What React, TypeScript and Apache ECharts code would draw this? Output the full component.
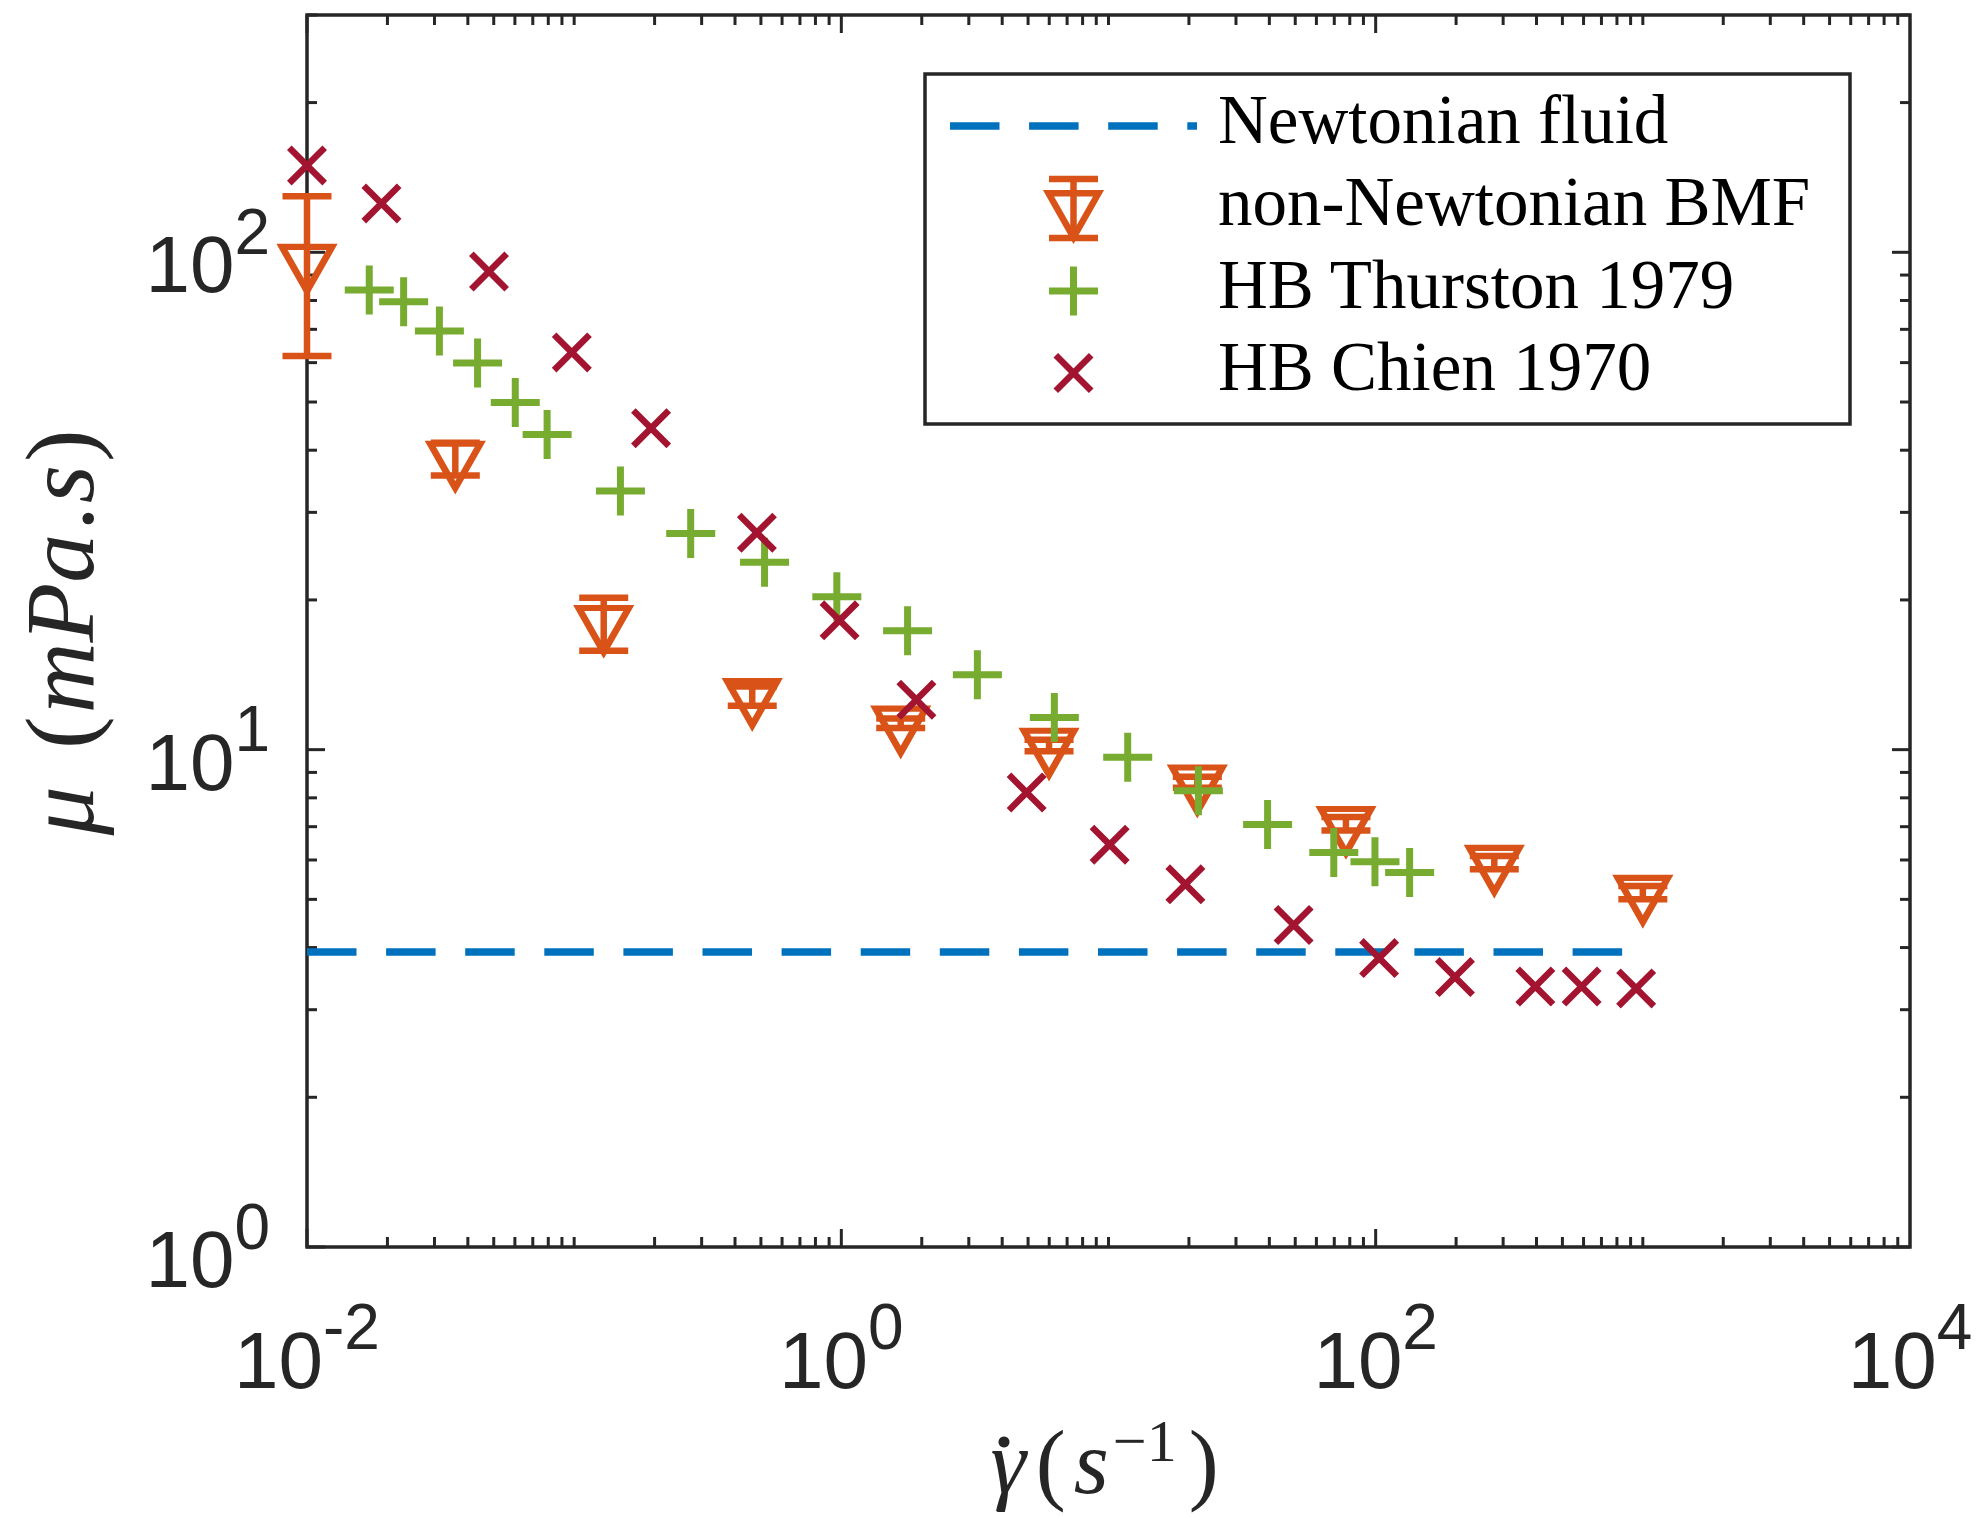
import React, { useEffect, useRef } from 'react';
import * as echarts from 'echarts';

// ---------------- data ----------------
const newtonianX = [0.01, 1000];
const newtonianY = [3.92, 3.92];

const bmfX = [0.01, 0.0359, 0.129, 0.464, 1.668, 5.99, 21.5, 77.4, 278, 1000];
const bmfY = [95.8, 38.5, 18.0, 12.83, 11.3, 10.2, 8.6, 7.1, 5.93, 5.16];
const bmfErr = [33.9, 2.9, 2.2, 0.57, 0.25, 0.27, 0.22, 0.22, 0.18, 0.16];

const thurstonX = [0.0171, 0.023, 0.0313, 0.0435, 0.0602, 0.0792, 0.149, 0.273, 0.516, 0.962, 1.77, 3.23, 6.27, 11.8, 21.7, 39.4, 69.7, 99.4, 134];
const thurstonY = [84.0, 79.5, 69.5, 59.9, 49.9, 43.0, 33.1, 27.2, 23.8, 20.3, 17.35, 14.15, 11.6, 9.65, 8.27, 7.07, 6.21, 5.95, 5.66];

const chienX = [0.01, 0.019, 0.048, 0.098, 0.194, 0.483, 0.985, 1.91, 4.94, 10.1, 19.4, 49.3, 103, 198, 396, 590, 944];
const chienY = [149.5, 125.4, 91.5, 62.9, 44.3, 27.3, 18.2, 12.6, 8.2, 6.44, 5.36, 4.44, 3.81, 3.49, 3.34, 3.34, 3.31];

const legendNames = ['Newtonian fluid', 'non-Newtonian BMF', 'HB Thurston 1979', 'HB Chien 1970'];

const xMin = 0.01;
const xMax = 10000;
const yMin = 1;
const yMax = 300;
const xTickDecades = [-2, -1, 0, 1, 2, 3];
const xLabelExponents = [-2, 0, 2, 4];
const yTickDecades = [0, 1, 2];
const yLabelExponents = [0, 1, 2];
const minorMultipliers = [1, 2, 3, 4, 5, 6, 7, 8, 9];

// ---------------- styles ----------------
const BLUE = '#0072BD';
const ORANGE = '#D95319';
const GREEN = '#77AC30';
const RED = '#A2142F';
const AXIS = '#262626';

const PLUS_PATH = 'path://M21,0 H28 V21 H49 V28 H28 V49 H21 V28 H0 V21 H21 Z';
const CROSS_PATH = 'path://M0,4.6 L4.6,0 L40,35.4 L35.4,40 Z M35.4,0 L40,4.6 L4.6,40 L0,35.4 Z';

const TRI_W = 50;
const TRI_H = 44;

// tick lists (axis decoration)
const xTickData: number[][] = [];
xTickDecades.forEach((d) => {
  minorMultipliers.forEach((m) => {
    const v = m * Math.pow(10, d);
    const major = m === 1 && xLabelExponents.indexOf(d) >= 0 ? 1 : 0;
    xTickData.push([v, 1, major]);
  });
});
const yTickData: number[][] = [];
yTickDecades.forEach((d) => {
  minorMultipliers.forEach((m) => {
    const v = m * Math.pow(10, d);
    if (v <= yMax) {
      const major = m === 1 && yLabelExponents.indexOf(d) >= 0 ? 1 : 0;
      yTickData.push([1, v, major]);
    }
  });
});

const supLabel = (value: number, allowed: number[]) => {
  const e = Math.log10(value);
  const r = Math.round(e);
  if (Math.abs(e - r) > 1e-6 || allowed.indexOf(r) < 0) return '';
  return '{b|10}{s|' + r + '}';
};

const tickRich = {
  b: { fontFamily: 'Liberation Sans', fontSize: 80, color: AXIS, lineHeight: 105, verticalAlign: 'bottom' },
  s: { fontFamily: 'Liberation Sans', fontSize: 64, color: AXIS, verticalAlign: 'top' },
};

const renderXTicks = (params: any, api: any) => {
  const cs = params.coordSys;
  const p = api.coord([api.value(0), yMin]);
  const len = api.value(2) ? 18 : 10;
  const st = { stroke: AXIS, lineWidth: 3 };
  return {
    type: 'group',
    children: [
      { type: 'line', shape: { x1: p[0], y1: cs.y + cs.height, x2: p[0], y2: cs.y + cs.height - len }, style: st },
      { type: 'line', shape: { x1: p[0], y1: cs.y, x2: p[0], y2: cs.y + len }, style: st },
    ],
  };
};

const renderYTicks = (params: any, api: any) => {
  const cs = params.coordSys;
  const p = api.coord([xMin, api.value(1)]);
  const len = api.value(2) ? 18 : 10;
  const st = { stroke: AXIS, lineWidth: 3 };
  return {
    type: 'group',
    children: [
      { type: 'line', shape: { x1: cs.x, y1: p[1], x2: cs.x + len, y2: p[1] }, style: st },
      { type: 'line', shape: { x1: cs.x + cs.width, y1: p[1], x2: cs.x + cs.width - len, y2: p[1] }, style: st },
    ],
  };
};

const renderErrorBars = (params: any, api: any) => {
  const x = api.value(0);
  const y = api.value(1);
  const e = api.value(2);
  const top = api.coord([x, y + e]);
  const bot = api.coord([x, y - e]);
  const hw = 24.5;
  const st = { stroke: ORANGE, lineWidth: 6.5 };
  return {
    type: 'group',
    children: [
      { type: 'line', shape: { x1: top[0], y1: top[1], x2: bot[0], y2: bot[1] }, style: st },
      { type: 'line', shape: { x1: top[0] - hw, y1: top[1], x2: top[0] + hw, y2: top[1] }, style: st },
      { type: 'line', shape: { x1: bot[0] - hw, y1: bot[1], x2: bot[0] + hw, y2: bot[1] }, style: st },
    ],
  };
};

// ---------------- legend (graphic) ----------------
const LX = 925;
const LY = 74;
const LW = 925;
const LH = 350;
const rowY = [126, 208, 291, 373];
const iconX = 1073.5;
const textX = 1218;
const legendFont = { fontFamily: 'Liberation Serif', fontSize: 69, fill: '#000' };

const legendGraphic: any[] = [
  { type: 'rect', z: 100, shape: { x: LX, y: LY, width: LW, height: LH }, style: { fill: '#fff', stroke: AXIS, lineWidth: 3.5 } },
  { type: 'line', z: 101, shape: { x1: 950, y1: rowY[0], x2: 1197, y2: rowY[0] }, style: { stroke: BLUE, lineWidth: 7.5, lineDash: [49.5, 29.6] } },
  { type: 'line', z: 101, shape: { x1: iconX, y1: 179, x2: iconX, y2: 238 }, style: { stroke: ORANGE, lineWidth: 6.5 } },
  { type: 'line', z: 101, shape: { x1: iconX - 24.5, y1: 179, x2: iconX + 24.5, y2: 179 }, style: { stroke: ORANGE, lineWidth: 6.5 } },
  { type: 'line', z: 101, shape: { x1: iconX - 24.5, y1: 238, x2: iconX + 24.5, y2: 238 }, style: { stroke: ORANGE, lineWidth: 6.5 } },
  {
    type: 'polygon', z: 101,
    shape: { points: [[iconX - TRI_W / 2, rowY[1] - TRI_H / 3], [iconX + TRI_W / 2, rowY[1] - TRI_H / 3], [iconX, rowY[1] + (2 * TRI_H) / 3]] },
    style: { fill: 'none', stroke: ORANGE, lineWidth: 6.5, lineJoin: 'miter', miterLimit: 10 },
  },
  { type: 'line', z: 101, shape: { x1: iconX - 24.5, y1: rowY[2], x2: iconX + 24.5, y2: rowY[2] }, style: { stroke: GREEN, lineWidth: 7 } },
  { type: 'line', z: 101, shape: { x1: iconX, y1: rowY[2] - 24.5, x2: iconX, y2: rowY[2] + 24.5 }, style: { stroke: GREEN, lineWidth: 7 } },
  { type: 'line', z: 101, shape: { x1: iconX - 17.7, y1: rowY[3] - 17.7, x2: iconX + 17.7, y2: rowY[3] + 17.7 }, style: { stroke: RED, lineWidth: 6.5 } },
  { type: 'line', z: 101, shape: { x1: iconX - 17.7, y1: rowY[3] + 17.7, x2: iconX + 17.7, y2: rowY[3] - 17.7 }, style: { stroke: RED, lineWidth: 6.5 } },
  ...legendNames.map((name, i) => ({
    type: 'text', z: 101, x: textX, y: rowY[i] - 6,
    style: { ...legendFont, text: name, textAlign: 'left', textVerticalAlign: 'middle', verticalAlign: 'middle' },
  })),
  // dot accent of the gamma in the x-axis title
  { type: 'circle', z: 101, shape: { cx: 1004, cy: 1442, r: 5.5 }, style: { fill: AXIS } },
];

const option: any = {
  animation: false,
  backgroundColor: '#fff',
  grid: {
    left: 307, top: 15, width: 1603, height: 1232,
    show: true, borderColor: AXIS, borderWidth: 3.5, backgroundColor: '#fff',
    containLabel: false, outerBoundsMode: 'none',
  },
  xAxis: {
    type: 'log', logBase: 10, min: xMin, max: xMax,
    axisLine: { show: false }, axisTick: { show: false }, splitLine: { show: false },
    axisLabel: { margin: 48, formatter: (v: number) => supLabel(v, xLabelExponents), rich: tickRich },
    name: '{g|γ}{p|(}{i|s}{sup|−1}{p|)}',
    nameLocation: 'middle', nameGap: 164,
    nameTextStyle: {
      rich: {
        g: { fontFamily: 'Liberation Serif', fontStyle: 'italic', fontSize: 90, color: AXIS, lineHeight: 96, verticalAlign: 'bottom', padding: [0, 4, 0, 0] },
        i: { fontFamily: 'Liberation Serif', fontStyle: 'italic', fontSize: 90, color: AXIS, lineHeight: 96, verticalAlign: 'bottom' },
        p: { fontFamily: 'Liberation Serif', fontSize: 90, color: AXIS, lineHeight: 96, verticalAlign: 'bottom', padding: [0, 8, 0, 6] },
        sup: { fontFamily: 'Liberation Serif', fontSize: 60, color: AXIS, verticalAlign: 'top', padding: [0, 6, 0, 4] },
      },
    },
  },
  yAxis: {
    type: 'log', logBase: 10, min: yMin, max: yMax,
    axisLine: { show: false }, axisTick: { show: false }, splitLine: { show: false },
    axisLabel: { margin: 37, formatter: (v: number) => supLabel(v, yLabelExponents), rich: tickRich },
    name: '{m|μ}{p| (}{i|mPa}{p|.}{i|s}{p|)}',
    nameLocation: 'middle', nameGap: 198, nameRotate: 90,
    nameTextStyle: {
      rich: {
        m: { fontFamily: 'Liberation Serif', fontStyle: 'italic', fontSize: 98, color: AXIS, padding: [0, 10, 0, 0] },
        i: { fontFamily: 'Liberation Serif', fontStyle: 'italic', fontSize: 98, color: AXIS },
        p: { fontFamily: 'Liberation Serif', fontSize: 98, color: AXIS, padding: [0, 3, 0, 3] },
      },
    },
  },
  graphic: legendGraphic,
  series: [
    {
      type: 'custom', name: 'xTicks', silent: true, renderItem: renderXTicks,
      data: xTickData, encode: { x: 0, y: 1 }, z: 1,
    },
    {
      type: 'custom', name: 'yTicks', silent: true, renderItem: renderYTicks,
      data: yTickData, encode: { x: 0, y: 1 }, z: 1,
    },
    {
      type: 'line', name: legendNames[0], silent: true, clip: false,
      data: newtonianX.map((x, i) => [x, newtonianY[i]]),
      showSymbol: false, symbol: 'none',
      lineStyle: { color: BLUE, width: 7.5, type: [49.5, 29.6], cap: 'butt' },
      z: 2,
    },
    {
      type: 'custom', name: 'bmfError', silent: true, renderItem: renderErrorBars,
      data: bmfX.map((x, i) => [x, bmfY[i], bmfErr[i]]), encode: { x: 0, y: 1 }, z: 3,
    },
    {
      type: 'scatter', name: legendNames[1], silent: true, clip: false,
      data: bmfX.map((x, i) => [x, bmfY[i]]),
      symbol: 'triangle', symbolRotate: 180, symbolSize: [TRI_W, TRI_H], symbolOffset: [0, TRI_H / 6],
      itemStyle: { color: 'rgba(0,0,0,0)', borderColor: ORANGE, borderWidth: 6.5, borderJoin: 'miter', borderMiterLimit: 10, opacity: 1 },
      z: 3,
    },
    {
      type: 'scatter', name: legendNames[2], silent: true, clip: false,
      data: thurstonX.map((x, i) => [x, thurstonY[i]]),
      symbol: PLUS_PATH, symbolSize: 49,
      itemStyle: { color: GREEN, opacity: 1 },
      z: 4,
    },
    {
      type: 'scatter', name: legendNames[3], silent: true, clip: false,
      data: chienX.map((x, i) => [x, chienY[i]]),
      symbol: CROSS_PATH, symbolSize: 40,
      itemStyle: { color: RED, opacity: 1 },
      z: 5,
    },
  ],
};

export default function App() {
  const ref = useRef<HTMLDivElement>(null);
  useEffect(() => {
    document.body.style.margin = '0';
    const chart = echarts.init(ref.current as HTMLDivElement, null, { renderer: 'svg' });
    chart.setOption(option);
    return () => {
      chart.dispose();
    };
  }, []);
  return <div ref={ref} style={{ width: 1979, height: 1518, overflow: 'hidden', background: '#fff' }} />;
}
